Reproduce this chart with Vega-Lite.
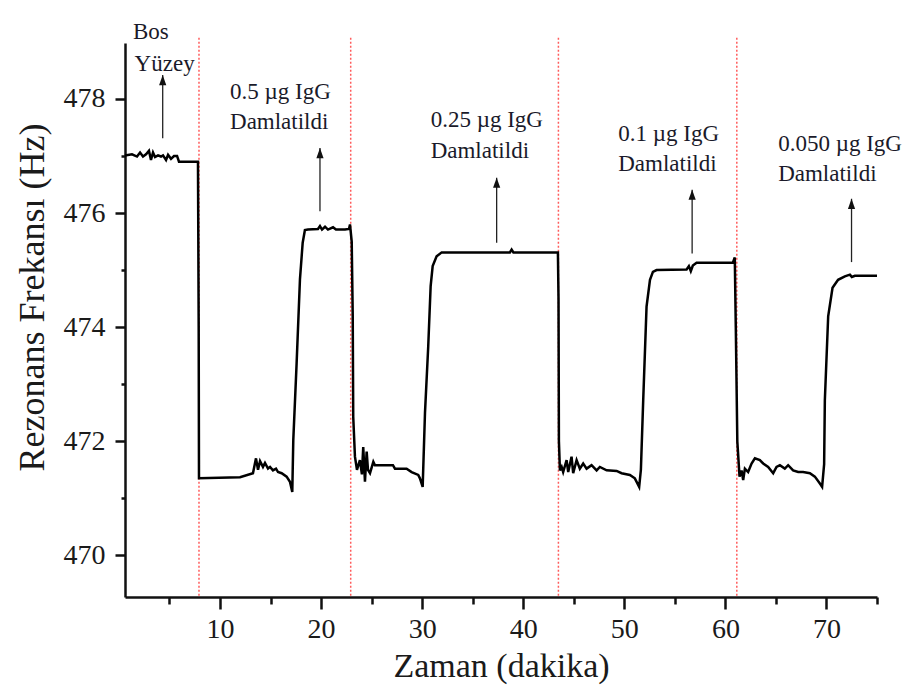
{
  "$schema": "https://vega.github.io/schema/vega-lite/v6.json",
  "width": 752,
  "height": 554,
  "autosize": "none",
  "padding": {"left": 125, "top": 43, "right": 44, "bottom": 101},
  "background": "white",
  "config": {"view": {"stroke": null}, "font": "Liberation Serif"},
  "datasets": {
    "markers": [
      {"t": 7.92, "top": 479.07, "bottom": 469.27},
      {"t": 22.93, "top": 479.07, "bottom": 469.27},
      {"t": 43.48, "top": 479.07, "bottom": 469.27},
      {"t": 61.13, "top": 479.07, "bottom": 469.27}
    ],
    "signal": [
      {"t": 0.6, "f": 477.01}, {"t": 1.29, "f": 477.03}, {"t": 1.79, "f": 476.99}, {"t": 2.09, "f": 477.06}, {"t": 2.38, "f": 476.99}, {"t": 2.68, "f": 477.03}, {"t": 2.97, "f": 477.09}, {"t": 3.17, "f": 476.93}, {"t": 3.37, "f": 477.06}, {"t": 3.57, "f": 476.98}, {"t": 3.87, "f": 477.01}, {"t": 4.16, "f": 476.99}, {"t": 4.36, "f": 477.01}, {"t": 4.66, "f": 476.93}, {"t": 4.86, "f": 477.02}, {"t": 5.15, "f": 476.95}, {"t": 5.45, "f": 477.0}, {"t": 5.75, "f": 477.0}, {"t": 5.94, "f": 476.9}, {"t": 7.82, "f": 476.9}, {"t": 7.89, "f": 474.0}, {"t": 7.92, "f": 471.35},
      {"t": 11.98, "f": 471.37}, {"t": 13.26, "f": 471.44}, {"t": 13.56, "f": 471.7}, {"t": 13.76, "f": 471.5}, {"t": 13.96, "f": 471.65}, {"t": 14.25, "f": 471.55}, {"t": 14.45, "f": 471.62}, {"t": 14.75, "f": 471.52}, {"t": 14.95, "f": 471.55}, {"t": 15.24, "f": 471.49}, {"t": 15.54, "f": 471.52}, {"t": 15.74, "f": 471.46}, {"t": 16.1, "f": 471.44}, {"t": 16.59, "f": 471.38}, {"t": 16.92, "f": 471.29}, {"t": 17.15, "f": 471.11}, {"t": 17.25, "f": 472.02}, {"t": 17.58, "f": 473.37}, {"t": 17.91, "f": 474.84}, {"t": 18.18, "f": 475.48}, {"t": 18.4, "f": 475.7}, {"t": 18.7, "f": 475.71}, {"t": 19.69, "f": 475.72}, {"t": 19.89, "f": 475.77}, {"t": 20.09, "f": 475.71}, {"t": 20.39, "f": 475.76}, {"t": 20.68, "f": 475.71}, {"t": 21.18, "f": 475.75}, {"t": 21.47, "f": 475.71}, {"t": 22.36, "f": 475.71}, {"t": 22.76, "f": 475.72}, {"t": 22.86, "f": 475.8}, {"t": 23.03, "f": 475.5}, {"t": 23.13, "f": 474.2}, {"t": 23.18, "f": 472.43}, {"t": 23.35, "f": 471.73},
      {"t": 23.55, "f": 471.5}, {"t": 23.84, "f": 471.67}, {"t": 24.04, "f": 471.42}, {"t": 24.17, "f": 471.9}, {"t": 24.34, "f": 471.29}, {"t": 24.51, "f": 471.82}, {"t": 24.64, "f": 471.5}, {"t": 24.84, "f": 471.44}, {"t": 25.17, "f": 471.64}, {"t": 25.33, "f": 471.58}, {"t": 27.11, "f": 471.58}, {"t": 27.31, "f": 471.52}, {"t": 28.46, "f": 471.52}, {"t": 28.96, "f": 471.46}, {"t": 29.61, "f": 471.41}, {"t": 29.78, "f": 471.35}, {"t": 30.05, "f": 471.2}, {"t": 30.28, "f": 472.5}, {"t": 30.6, "f": 473.66}, {"t": 30.84, "f": 474.72}, {"t": 31.04, "f": 475.07}, {"t": 31.43, "f": 475.24}, {"t": 31.93, "f": 475.31}, {"t": 38.68, "f": 475.31}, {"t": 38.85, "f": 475.36}, {"t": 39.03, "f": 475.31}, {"t": 43.43, "f": 475.31}, {"t": 43.49, "f": 474.5}, {"t": 43.53, "f": 472.0}, {"t": 43.63, "f": 471.49},
      {"t": 43.8, "f": 471.55}, {"t": 43.95, "f": 471.46}, {"t": 44.29, "f": 471.67}, {"t": 44.45, "f": 471.46}, {"t": 44.78, "f": 471.73}, {"t": 44.94, "f": 471.44}, {"t": 45.28, "f": 471.67}, {"t": 45.6, "f": 471.52}, {"t": 45.93, "f": 471.61}, {"t": 46.27, "f": 471.52}, {"t": 46.76, "f": 471.58}, {"t": 47.26, "f": 471.49}, {"t": 47.58, "f": 471.55}, {"t": 48.25, "f": 471.49}, {"t": 49.24, "f": 471.48}, {"t": 49.73, "f": 471.44}, {"t": 50.55, "f": 471.41}, {"t": 51.04, "f": 471.35}, {"t": 51.47, "f": 471.2}, {"t": 51.64, "f": 471.5}, {"t": 51.87, "f": 472.72}, {"t": 52.2, "f": 474.36}, {"t": 52.54, "f": 474.83}, {"t": 52.83, "f": 474.97}, {"t": 53.19, "f": 475.0}, {"t": 56.16, "f": 475.01}, {"t": 56.39, "f": 475.07}, {"t": 56.58, "f": 474.98}, {"t": 56.78, "f": 475.08}, {"t": 57.15, "f": 475.13}, {"t": 60.74, "f": 475.13}, {"t": 60.93, "f": 475.22}, {"t": 61.03, "f": 474.0}, {"t": 61.18, "f": 472.0}, {"t": 61.4, "f": 471.38},
      {"t": 61.6, "f": 471.49}, {"t": 61.76, "f": 471.32}, {"t": 61.93, "f": 471.52}, {"t": 62.25, "f": 471.46}, {"t": 62.59, "f": 471.61}, {"t": 62.92, "f": 471.7}, {"t": 63.41, "f": 471.67}, {"t": 63.74, "f": 471.61}, {"t": 64.23, "f": 471.55}, {"t": 64.73, "f": 471.44}, {"t": 65.06, "f": 471.55}, {"t": 65.39, "f": 471.58}, {"t": 65.88, "f": 471.52}, {"t": 66.21, "f": 471.58}, {"t": 66.7, "f": 471.49}, {"t": 67.2, "f": 471.46}, {"t": 67.69, "f": 471.46}, {"t": 68.36, "f": 471.44}, {"t": 68.85, "f": 471.38}, {"t": 69.35, "f": 471.26}, {"t": 69.57, "f": 471.2}, {"t": 69.77, "f": 471.6}, {"t": 69.84, "f": 472.72}, {"t": 70.17, "f": 474.19}, {"t": 70.6, "f": 474.69}, {"t": 71.15, "f": 474.83}, {"t": 71.82, "f": 474.89}, {"t": 72.32, "f": 474.92}, {"t": 72.51, "f": 474.88}, {"t": 72.81, "f": 474.9}, {"t": 75.0, "f": 474.9}
    ],
    "arrows": [
      {"t": 4.33, "lo": 477.31, "hi": 478.42},
      {"t": 19.89, "lo": 476.03, "hi": 477.14},
      {"t": 37.37, "lo": 475.48, "hi": 476.62},
      {"t": 56.71, "lo": 475.29, "hi": 476.41},
      {"t": 72.48, "lo": 475.14, "hi": 476.25}
    ],
    "notes": [
      {"t": 1.39, "f": 479.05, "label": "Bos"},
      {"t": 1.55, "f": 478.49, "label": "Yüzey"},
      {"t": 10.99, "f": 478.0, "label": "0.5 µg IgG"},
      {"t": 10.99, "f": 477.47, "label": "Damlatildi"},
      {"t": 30.84, "f": 477.5, "label": "0.25 µg IgG"},
      {"t": 30.84, "f": 476.97, "label": "Damlatildi"},
      {"t": 49.4, "f": 477.26, "label": "0.1 µg IgG"},
      {"t": 49.4, "f": 476.74, "label": "Damlatildi"},
      {"t": 65.22, "f": 477.09, "label": "0.050 µg IgG"},
      {"t": 65.22, "f": 476.56, "label": "Damlatildi"}
    ]
  },
  "layer": [
    {
      "data": {"name": "markers"},
      "mark": {"type": "rule", "color": "#ff5c5c", "strokeDash": [2, 2], "strokeWidth": 1.5},
      "encoding": {
        "x": {
          "field": "t", "type": "quantitative",
          "scale": {"domain": [0.6, 75], "nice": false, "zero": false},
          "axis": {
            "title": "Zaman (dakika)",
            "format": "d",
            "values": [5, 10, 15, 20, 25, 30, 35, 40, 45, 50, 55, 60, 65, 70, 75],
            "labelExpr": "datum.value % 10 === 0 ? datum.label : ''",
            "tickSize": {"condition": {"test": "datum.value % 10 === 0", "value": 12}, "value": 7},
            "grid": false,
            "domainColor": "#111", "domainWidth": 2.5,
            "tickColor": "#111", "tickWidth": 2.5,
            "labelFont": "Liberation Serif", "labelFontSize": 28, "labelColor": "#1a1a1a",
            "labelPadding": 6, "labelOverlap": false, "labelFlush": false,
            "titleFont": "Liberation Serif", "titleFontSize": 34, "titleFontWeight": "normal", "titleColor": "#1a1a1a",
            "titlePadding": 6
          }
        },
        "y": {
          "field": "top", "type": "quantitative",
          "scale": {"domain": [469.27, 478.98], "nice": false, "zero": false},
          "axis": {
            "title": "Rezonans Frekansı (Hz)",
            "format": "d",
            "values": [470, 471, 472, 473, 474, 475, 476, 477, 478],
            "labelExpr": "datum.value % 2 === 0 ? datum.label : ''",
            "tickSize": {"condition": {"test": "datum.value % 2 === 0", "value": 10}, "value": 4},
            "grid": false,
            "domainColor": "#111", "domainWidth": 2.5,
            "tickColor": "#111", "tickWidth": 2.5,
            "labelFont": "Liberation Serif", "labelFontSize": 28, "labelColor": "#1a1a1a",
            "labelPadding": 10, "labelOverlap": false,
            "titleFont": "Liberation Serif", "titleFontSize": 36, "titleFontWeight": "normal", "titleColor": "#1a1a1a",
            "titlePadding": 12,
            "titleY": 254
          }
        },
        "y2": {"field": "bottom"}
      }
    },
    {
      "data": {"name": "signal"},
      "mark": {"type": "line", "color": "#000", "strokeWidth": 2.5, "strokeJoin": "miter"},
      "encoding": {
        "x": {"field": "t", "type": "quantitative"},
        "y": {"field": "f", "type": "quantitative"}
      }
    },
    {
      "data": {"name": "arrows"},
      "mark": {"type": "rule", "color": "#222", "strokeWidth": 1.3},
      "encoding": {
        "x": {"field": "t", "type": "quantitative"},
        "y": {"field": "lo", "type": "quantitative"},
        "y2": {"field": "hi"}
      }
    },
    {
      "data": {"name": "arrows"},
      "mark": {"type": "point", "shape": "M0,0L0.6,1.7L-0.6,1.7Z", "filled": true, "color": "#111", "size": 144, "opacity": 1},
      "encoding": {
        "x": {"field": "t", "type": "quantitative"},
        "y": {"field": "hi", "type": "quantitative"}
      }
    },
    {
      "data": {"name": "notes"},
      "mark": {"type": "text", "align": "left", "baseline": "alphabetic", "font": "Liberation Serif", "fontSize": 23, "color": "#1a1a2a"},
      "encoding": {
        "x": {"field": "t", "type": "quantitative"},
        "y": {"field": "f", "type": "quantitative"},
        "text": {"field": "label"}
      }
    }
  ]
}
